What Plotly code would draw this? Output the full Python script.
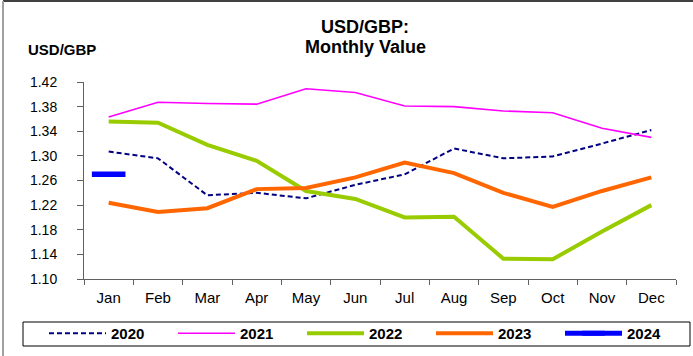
import plotly.graph_objects as go

# Monthly USD/GBP exchange rates by year
months = ["Jan", "Feb", "Mar", "Apr", "May", "Jun",
          "Jul", "Aug", "Sep", "Oct", "Nov", "Dec"]

usd_gbp_2020 = [1.307, 1.296, 1.236, 1.240, 1.231, 1.253,
                1.270, 1.312, 1.296, 1.299, 1.320, 1.342]
usd_gbp_2021 = [1.363, 1.387, 1.385, 1.384, 1.409, 1.403,
                1.381, 1.380, 1.373, 1.370, 1.345, 1.330]
usd_gbp_2022 = [1.356, 1.354, 1.318, 1.292, 1.243, 1.230,
                1.200, 1.201, 1.133, 1.132, 1.177, 1.220]
usd_gbp_2023 = [1.224, 1.209, 1.215, 1.246, 1.248, 1.265,
                1.289, 1.272, 1.240, 1.217, 1.243, 1.265]
usd_gbp_2024 = [1.270]

y_ticks = [1.10, 1.14, 1.18, 1.22, 1.26, 1.30, 1.34, 1.38, 1.42]

FONT = "Liberation Sans, Arial, sans-serif"

fig = go.Figure()

fig.add_trace(go.Scatter(
    x=months, y=usd_gbp_2020, name="2020", mode="lines",
    line=dict(color="#000080", width=2, dash="5px,3px"),
))
fig.add_trace(go.Scatter(
    x=months, y=usd_gbp_2021, name="2021", mode="lines",
    line=dict(color="#FF00FF", width=1.6),
))
fig.add_trace(go.Scatter(
    x=months, y=usd_gbp_2022, name="2022", mode="lines",
    line=dict(color="#99CC00", width=4),
))
fig.add_trace(go.Scatter(
    x=months, y=usd_gbp_2023, name="2023", mode="lines",
    line=dict(color="#FF6600", width=4),
))
fig.add_trace(go.Scatter(
    x=months[:len(usd_gbp_2024)], y=usd_gbp_2024, name="2024",
    mode="lines+markers",
    line=dict(color="#0000FF", width=5),
    marker=dict(symbol="line-ew", size=24, color="#0000FF",
                line=dict(color="#0000FF", width=5.5)),
))

# pixel -> paper helpers for the frame lines and labels
L, R, T, B = 84, 17, 82, 77
W, H = 693, 356
pw, ph = W - L - R, H - T - B


def px_x(p):
    return (p - L) / pw


def px_y(p):
    return (H - B - p) / ph


fig.update_layout(
    width=W, height=H,
    margin=dict(l=L, r=R, t=T, b=B, pad=0, autoexpand=False),
    paper_bgcolor="white",
    plot_bgcolor="white",
    font=dict(family=FONT, color="black"),
    showlegend=True,
    legend=dict(
        orientation="h",
        x=px_x(44), xanchor="left",
        y=px_y(317), yanchor="top",
        borderwidth=0,
        bgcolor="rgba(0,0,0,0)",
        font=dict(family=FONT, size=15, color="black", weight="bold"),
        itemwidth=57,
        entrywidth=57, entrywidthmode="pixels",
        traceorder="normal",
        itemclick=False, itemdoubleclick=False,
    ),
    xaxis=dict(
        type="category",
        categoryorder="array", categoryarray=months,
        range=[-0.5, len(months) - 0.5],
        showline=True, linecolor="#606060", linewidth=1,
        ticks="outside", ticklen=5, tickcolor="#606060", tickwidth=1,
        tickson="boundaries",
        showgrid=False, zeroline=False,
        tickfont=dict(family=FONT, size=15, color="black"),
        ticklabelstandoff=5,
        fixedrange=True,
    ),
    yaxis=dict(
        range=[y_ticks[0], y_ticks[-1]],
        tickvals=y_ticks,
        tickformat=".2f",
        showline=True, linecolor="#606060", linewidth=1,
        ticks="outside", ticklen=6, tickcolor="#606060", tickwidth=1,
        showgrid=False, zeroline=False,
        tickfont=dict(family=FONT, size=14, color="black"),
        ticklabelstandoff=17,
        fixedrange=True,
    ),
    annotations=[
        dict(text="<b>USD/GBP:</b>", xref="paper", yref="paper",
             x=px_x(365), y=px_y(27), xanchor="center", yanchor="middle",
             showarrow=False, font=dict(family=FONT, size=18, color="black")),
        dict(text="<b>Monthly Value</b>", xref="paper", yref="paper",
             x=px_x(365), y=px_y(47), xanchor="center", yanchor="middle",
             showarrow=False, font=dict(family=FONT, size=18, color="black")),
        dict(text="<b>USD/GBP</b>", xref="paper", yref="paper",
             x=px_x(62), y=px_y(50), xanchor="center", yanchor="middle",
             showarrow=False, font=dict(family=FONT, size=15, color="black")),
    ],
    shapes=[
        # outer frame
        dict(type="line", xref="paper", yref="paper",
             x0=px_x(3), x1=px_x(700), y0=px_y(1), y1=px_y(1),
             line=dict(color="#404040", width=2)),
        dict(type="line", xref="paper", yref="paper",
             x0=px_x(3), x1=px_x(3), y0=px_y(1), y1=px_y(360),
             line=dict(color="#A0A0A0", width=2)),
        # legend box
        dict(type="rect", xref="paper", yref="paper",
             x0=px_x(23), x1=px_x(690), y0=px_y(322), y1=px_y(346),
             line=dict(color="black", width=1), fillcolor="rgba(0,0,0,0)"),
    ],
)

fig.write_html("out.html", config={"displayModeBar": False})
